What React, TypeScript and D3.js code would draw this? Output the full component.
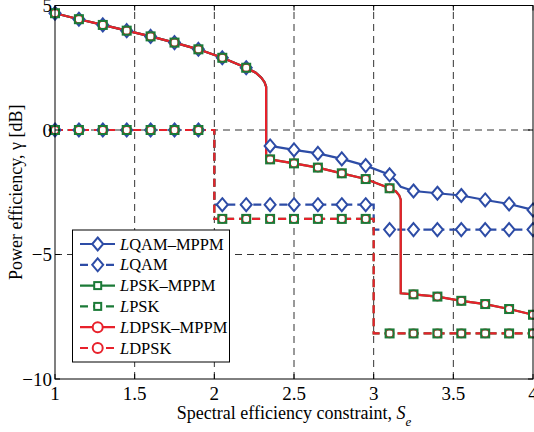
import React, { useEffect, useRef } from "react";
import * as d3 from "d3";

// marker positions (every 0.15)
const markerX = [1, 1.15, 1.3, 1.45, 1.6, 1.75, 1.9, 2.05, 2.2, 2.35, 2.5, 2.65, 2.8, 2.95, 3.1, 3.25, 3.4, 3.55, 3.7, 3.85, 4];

// LQAM-MPPM
const qamMppmX = [1, 1.15, 1.3, 1.45, 1.6, 1.75, 1.9, 2.05, 2.2, 2.26, 2.295, 2.315, 2.325, 2.325, 2.35, 2.5, 2.65, 2.8, 2.95, 3.1, 3.145, 3.17, 3.25, 3.4, 3.55, 3.7, 3.85, 4];
const qamMppmY = [4.69, 4.45, 4.22, 3.99, 3.76, 3.51, 3.24, 2.9, 2.5, 2.3, 2.1, 1.92, 1.74, -0.6, -0.64, -0.8, -0.94, -1.16, -1.43, -1.8, -2.08, -2.28, -2.45, -2.54, -2.63, -2.81, -2.97, -3.21];
const qamMppmMarks = [4.69, 4.45, 4.22, 3.99, 3.76, 3.51, 3.24, 2.9, 2.5, -0.64, -0.8, -0.94, -1.16, -1.43, -1.8, -2.45, -2.54, -2.63, -2.81, -2.97, -3.21];

// LPSK-MPPM and LDPSK-MPPM (same curve)
const dpskMppmX = [1, 1.15, 1.3, 1.45, 1.6, 1.75, 1.9, 2.05, 2.2, 2.26, 2.295, 2.315, 2.325, 2.325, 2.35, 2.5, 2.65, 2.8, 2.95, 3.1, 3.14, 3.16, 3.17, 3.17, 3.25, 3.4, 3.55, 3.7, 3.85, 4];
const dpskMppmY = [4.69, 4.45, 4.22, 3.99, 3.76, 3.51, 3.24, 2.9, 2.5, 2.3, 2.1, 1.92, 1.74, -1.15, -1.18, -1.34, -1.51, -1.74, -1.97, -2.34, -2.47, -2.62, -2.8, -6.56, -6.6, -6.69, -6.86, -6.99, -7.19, -7.42];
const dpskMppmMarks = [4.69, 4.45, 4.22, 3.99, 3.76, 3.51, 3.24, 2.9, 2.5, -1.18, -1.34, -1.51, -1.74, -1.97, -2.34, -6.6, -6.69, -6.86, -6.99, -7.19, -7.42];

// LQAM (step)
const qamX = [1, 2, 2, 3, 3, 4];
const qamY = [0, 0, -3.0, -3.0, -4.0, -4.0];
const qamMarks = [0, 0, 0, 0, 0, 0, 0, -3.0, -3.0, -3.0, -3.0, -3.0, -3.0, -3.0, -4.0, -4.0, -4.0, -4.0, -4.0, -4.0, -4.0];

// LPSK / LDPSK (step)
const pskX = [1, 2, 2, 3, 3, 4];
const pskY = [0, 0, -3.57, -3.57, -8.17, -8.17];
const pskMarks = [0, 0, 0, 0, 0, 0, 0, -3.57, -3.57, -3.57, -3.57, -3.57, -3.57, -3.57, -8.17, -8.17, -8.17, -8.17, -8.17, -8.17, -8.17];

const xTicks = [1, 1.5, 2, 2.5, 3, 3.5, 4];
const yTicks = [-10, -5, 0, 5];
const xGrid = [1.5, 2, 2.5, 3, 3.5];
const yGrid = [-5, 0];

const BLUE = "#2d4ca6";
const GREEN = "#1b7a37";
const RED = "#e8212b";
const FONT = "'Liberation Serif', 'Times New Roman', serif";

const App = () => {
  const svgRef = useRef<SVGSVGElement>(null);

  useEffect(() => {
    const width = 534;
    const height = 432;
    const margins = { top: 5.5, right: 1, bottom: 53, left: 55 };

    const svg = d3.select(svgRef.current);
    svg.selectAll("*").remove();

    const x = d3.scaleLinear().domain([1, 4]).range([margins.left, width - margins.right]);
    const y = d3.scaleLinear().domain([-10, 5]).range([height - margins.bottom, margins.top]);
    const x0 = margins.left, x1 = width - margins.right;
    const y0 = height - margins.bottom, y1 = margins.top;

    svg.append("rect").attr("x", x0).attr("y", y1).attr("width", x1 - x0).attr("height", y0 - y1).attr("fill", "#fff");

    // grid
    svg.append("g").selectAll("line").data(xGrid).enter().append("line")
      .attr("x1", (d) => x(d)).attr("x2", (d) => x(d)).attr("y1", y0).attr("y2", y1)
      .attr("stroke", "#333").attr("stroke-width", 1).attr("stroke-dasharray", "7,5");
    svg.append("g").selectAll("line").data(yGrid).enter().append("line")
      .attr("y1", (d) => y(d)).attr("y2", (d) => y(d)).attr("x1", x0).attr("x2", x1)
      .attr("stroke", "#333").attr("stroke-width", 1).attr("stroke-dasharray", "7,5");

    const line = d3.line<[number, number]>().x((d) => x(d[0])).y((d) => y(d[1]));
    const zip = (xs: number[], ys: number[]) => xs.map((v, i) => [v, ys[i]] as [number, number]);

    const series = [
      { name: "QAM\u2013MPPM", color: BLUE, dash: null, marker: "diamond", xs: qamMppmX, ys: qamMppmY, marks: qamMppmMarks },
      { name: "QAM", color: BLUE, dash: "8,5", marker: "diamond", xs: qamX, ys: qamY, marks: qamMarks },
      { name: "PSK\u2013MPPM", color: GREEN, dash: null, marker: "square", xs: dpskMppmX, ys: dpskMppmY, marks: dpskMppmMarks },
      { name: "PSK", color: GREEN, dash: "8,5", marker: "square", xs: pskX, ys: pskY, marks: pskMarks },
      { name: "DPSK\u2013MPPM", color: RED, dash: null, marker: "circle", xs: dpskMppmX, ys: dpskMppmY, marks: dpskMppmMarks },
      { name: "DPSK", color: RED, dash: "8,5", marker: "circle", xs: pskX, ys: pskY, marks: pskMarks },
    ];

    const drawMarker = (g: any, kind: string, color: string, cx: number, cy: number) => {
      if (kind === "diamond") {
        g.append("path").attr("d", `M${cx},${cy - 6.5}L${cx + 5.5},${cy}L${cx},${cy + 6.5}L${cx - 5.5},${cy}Z`)
          .attr("fill", "#fff").attr("stroke", color).attr("stroke-width", 2);
      } else if (kind === "square") {
        g.append("rect").attr("x", cx - 4).attr("y", cy - 4).attr("width", 8).attr("height", 8)
          .attr("fill", "none").attr("stroke", color).attr("stroke-width", 2);
      } else {
        g.append("circle").attr("cx", cx).attr("cy", cy).attr("r", 4)
          .attr("fill", "#fff").attr("stroke", color).attr("stroke-width", 1.8);
      }
    };

    // lines
    series.forEach((s) => {
      svg.append("path").attr("d", line(zip(s.xs, s.ys)))
        .attr("fill", "none").attr("stroke", s.color).attr("stroke-width", 2.2)
        .attr("stroke-dasharray", s.dash);
    });

    // markers: diamonds, circles, then squares on top
    const mg = svg.append("g");
    ["diamond", "circle", "square"].forEach((kind) => {
      series.filter((s) => s.marker === kind).forEach((s) => {
        markerX.forEach((mx, i) => drawMarker(mg, kind, s.color, x(mx), y(s.marks[i])));
      });
    });

    // frame
    svg.append("rect").attr("x", x0).attr("y", y1).attr("width", x1 - x0).attr("height", y0 - y1)
      .attr("fill", "none").attr("stroke", "#000").attr("stroke-width", 1);

    // inward ticks
    const tg = svg.append("g").attr("stroke", "#000").attr("stroke-width", 1);
    xTicks.forEach((t) => {
      tg.append("line").attr("x1", x(t)).attr("x2", x(t)).attr("y1", y0).attr("y2", y0 - 5);
      tg.append("line").attr("x1", x(t)).attr("x2", x(t)).attr("y1", y1).attr("y2", y1 + 5);
    });
    yTicks.forEach((t) => {
      tg.append("line").attr("y1", y(t)).attr("y2", y(t)).attr("x1", x0).attr("x2", x0 + 5);
      tg.append("line").attr("y1", y(t)).attr("y2", y(t)).attr("x1", x1).attr("x2", x1 - 5);
    });

    // tick labels
    svg.append("g").selectAll("text").data(xTicks).enter().append("text")
      .attr("x", (d) => x(d)).attr("y", y0 + 21).attr("text-anchor", "middle")
      .attr("font-family", FONT).attr("font-size", "19px")
      .text((d) => String(d));
    svg.append("g").selectAll("text").data(yTicks).enter().append("text")
      .attr("x", x0 - 3).attr("y", (d) => y(d) + 6.5).attr("text-anchor", "end")
      .attr("font-family", FONT).attr("font-size", "19px")
      .text((d) => (d < 0 ? "\u2212" + Math.abs(d) : String(d)));

    // axis titles
    const xt = svg.append("text").attr("x", (x0 + x1) / 2).attr("y", 419).attr("text-anchor", "middle")
      .attr("font-family", FONT).attr("font-size", "18px");
    xt.append("tspan").text("Spectral efficiency constraint, ");
    xt.append("tspan").attr("font-style", "italic").text("S");
    xt.append("tspan").attr("font-style", "italic").attr("font-size", "13px").attr("dy", 7).text("e");

    svg.append("text").attr("transform", `translate(22, ${(y0 + y1) / 2}) rotate(-90)`)
      .attr("text-anchor", "middle").attr("font-family", FONT).attr("font-size", "18px")
      .text("Power efficiency, \u03b3 [dB]");

    // legend
    const lg = svg.append("g");
    const lx = 72.5, ly = 230, lw = 157, lh = 132;
    lg.append("rect").attr("x", lx).attr("y", ly).attr("width", lw).attr("height", lh)
      .attr("fill", "#fff").attr("stroke", "#000").attr("stroke-width", 1);
    series.forEach((s, i) => {
      const cy = 244 + i * 20.8;
      lg.append("line").attr("x1", 80).attr("x2", 115).attr("y1", cy).attr("y2", cy)
        .attr("stroke", s.color).attr("stroke-width", 2.2).attr("stroke-dasharray", s.dash);
      if (s.marker === "circle") {
        lg.append("circle").attr("cx", 97.7).attr("cy", cy).attr("r", 5)
          .attr("fill", "#fff").attr("stroke", s.color).attr("stroke-width", 2);
      } else if (s.marker === "square") {
        lg.append("rect").attr("x", 94.2).attr("y", cy - 3.5).attr("width", 7).attr("height", 7)
          .attr("fill", "#fff").attr("stroke", s.color).attr("stroke-width", 2);
      } else {
        drawMarker(lg, "diamond", s.color, 97.7, cy);
      }
      const t = lg.append("text").attr("x", 120).attr("y", cy + 5.5)
        .attr("font-family", FONT).attr("font-size", "16.5px");
      t.append("tspan").attr("font-style", "italic").text("L");
      t.append("tspan").text(s.name);
    });
  }, []);

  return (
    <svg ref={svgRef} width={534} height={432} style={{ position: "absolute", left: 0, top: 0, background: "#fff" }} />
  );
};

export default App;
